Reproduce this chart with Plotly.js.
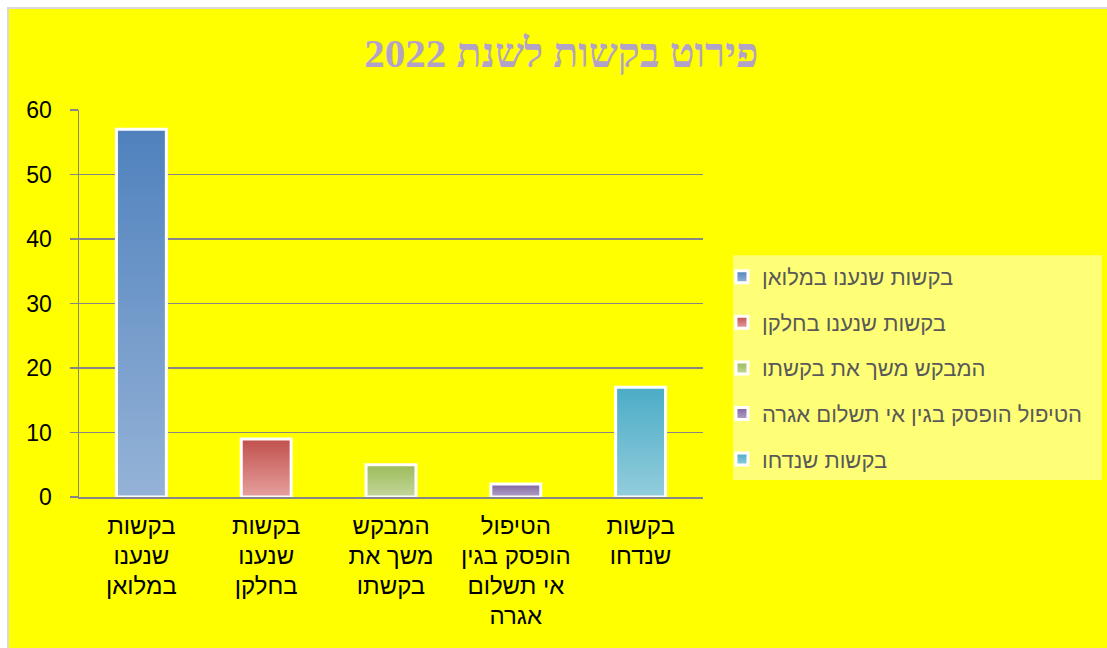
<!DOCTYPE html>
<html>
<head>
<meta charset="utf-8">
<script src="https://cdn.plot.ly/plotly-3.0.1.min.js"></script>
<style>
html, body { margin: 0; padding: 0; background: #ffffff; width: 1107px; height: 648px; overflow: hidden; }
#chart { position: absolute; left: 7px; top: 7px; width: 1098px; height: 639px; border-left: 2px solid #d9d9d9; border-top: 2px solid #d9d9d9; }
</style>
</head>
<body>
<div id="chart"></div>
<script>
// ---- data ----
const chartTitle = "\u202Bפירוט בקשות לשנת 2022\u202C";
const categories = [
  "בקשות שנענו במלואן",
  "בקשות שנענו בחלקן",
  "המבקש משך את בקשתו",
  "הטיפול הופסק בגין אי תשלום אגרה",
  "בקשות שנדחו"
];
const tickLabels = [
  "בקשות<br>שנענו<br>במלואן",
  "בקשות<br>שנענו<br>בחלקן",
  "המבקש<br>משך את<br>בקשתו",
  "הטיפול<br>הופסק בגין<br>אי תשלום<br>אגרה",
  "בקשות<br>שנדחו"
];
const values = [57, 9, 5, 2, 17];
const yTicks = [0, 10, 20, 30, 40, 50, 60];

// ---- styles ----
const topColors = ["#4f81bd", "#c0504d", "#9bbb59", "#8064a2", "#4bacc6"];
const bottomColors = ["#95b3d7", "#e6a09e", "#c4d79b", "#b3a2c7", "#93cddd"];
const midColors = ["#7299c9", "#d37875", "#afc97a", "#9a83b5", "#6fbcd2"];

const traces = categories.map((c, i) => ({
  type: "bar",
  name: c,
  x: [c],
  y: [values[i]],
  width: 0.4,
  legendgroup: "g" + i,
  marker: { color: midColors[i], line: { color: "#ffffff", width: 3 } },
  hoverinfo: "x+y"
}));

const layout = {
  width: 1098,
  height: 639,
  paper_bgcolor: "#ffff00",
  plot_bgcolor: "#ffff00",
  margin: { l: 70, r: 404, t: 101, b: 151, autoexpand: false },
  barmode: "overlay",
  title: {
    text: chartTitle,
    font: { family: "Liberation Serif, DejaVu Serif, serif", size: 41, color: "#b3a2c7", weight: "bold" },
    x: 0.503, xref: "container", xanchor: "center",
    y: 0.931, yref: "container", yanchor: "middle"
  },
  xaxis: {
    type: "category",
    tickvals: categories,
    ticktext: tickLabels,
    showline: true, linecolor: "#868686", linewidth: 1.5,
    ticks: "", showgrid: false,
    tickfont: { family: "Liberation Sans, Arial, sans-serif", size: 24, color: "#000000" },
    ticklabelstandoff: 7,
    automargin: false,
    fixedrange: true
  },
  yaxis: {
    range: [0, 60],
    tickvals: yTicks,
    showline: true, linecolor: "#868686", linewidth: 1.5,
    ticks: "outside", ticklen: 8, tickcolor: "#868686", tickwidth: 1.5,
    showgrid: true, gridcolor: "#868686", gridwidth: 1.5,
    zeroline: false,
    tickfont: { family: "Liberation Sans, Arial, sans-serif", size: 23, color: "#000000" },
    ticklabelstandoff: 13,
    automargin: false,
    fixedrange: true
  },
  showlegend: true,
  legend: {
    x: 1.0304, xanchor: "left",
    y: 0.623, yanchor: "top",
    bgcolor: "rgba(0,0,0,0)",
    font: { family: "Liberation Sans, Arial, sans-serif", size: 22, color: "#595959" },
    traceorder: "grouped",
    tracegroupgap: 14
  },
  shapes: [{
    type: "rect", xref: "paper", yref: "paper",
    x0: 1.048, x1: 1.639, y0: 0.044, y1: 0.625,
    fillcolor: "#ffff77", line: { width: 0 }, layer: "below"
  }]
};

const ns = "http://www.w3.org/2000/svg";

function ensureGradients(gd) {
  const svg = gd.querySelector("svg.main-svg");
  if (!svg) return false;
  let defs = svg.querySelector("defs");
  if (!defs) { defs = document.createElementNS(ns, "defs"); svg.insertBefore(defs, svg.firstChild); }
  topColors.forEach((tc, i) => {
    if (document.getElementById("grad" + i)) return;
    const g = document.createElementNS(ns, "linearGradient");
    g.setAttribute("id", "grad" + i);
    g.setAttribute("x1", "0"); g.setAttribute("y1", "0");
    g.setAttribute("x2", "0"); g.setAttribute("y2", "1");
    const s1 = document.createElementNS(ns, "stop");
    s1.setAttribute("offset", "0"); s1.setAttribute("stop-color", tc);
    const s2 = document.createElementNS(ns, "stop");
    s2.setAttribute("offset", "1"); s2.setAttribute("stop-color", bottomColors[i]);
    g.appendChild(s1); g.appendChild(s2);
    defs.appendChild(g);
  });
  return true;
}

function applyStyling(gd) {
  if (!ensureGradients(gd)) return;
  gd.querySelectorAll(".trace.bars").forEach((t, i) => {
    t.querySelectorAll("path").forEach(p => { p.style.setProperty("fill", "url(#grad" + i + ")"); });
  });
  gd.querySelectorAll(".legend .traces").forEach((t, i) => {
    t.querySelectorAll(".legendpoints path").forEach(p => { p.style.setProperty("fill", "url(#grad" + i + ")"); });
  });
  // tighter line spacing for the category labels (Excel-like)
  gd.querySelectorAll(".xtick text tspan.line").forEach(s => {
    if (s.dataset.scaled) return;
    const dy = s.getAttribute("dy");
    if (dy && dy.endsWith("em")) {
      s.setAttribute("dy", (parseFloat(dy) * 1.25 / 1.3).toFixed(3) + "em");
    }
    s.dataset.scaled = "1";
  });
}

const gdEl = document.getElementById("chart");
Plotly.newPlot(gdEl, traces, layout, { displayModeBar: false, staticPlot: true }).then(gd => applyStyling(gd));
applyStyling(gdEl);
</script>
</body>
</html>
